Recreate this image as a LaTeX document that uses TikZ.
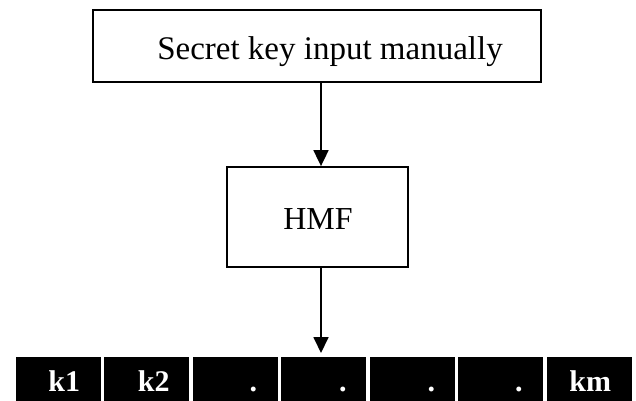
\documentclass[tikz,border=0pt]{standalone}
\usepackage{fontspec}
\setmainfont{Liberation Serif}
\usetikzlibrary{arrows.meta}
\begin{document}
\begin{tikzpicture}[x=1pt,y=-1pt,
  box/.style={draw=black,line width=1.8pt,fill=white,inner sep=0pt},
  boxtext/.style={inner sep=0pt,anchor=base},
  cell/.style={fill=black,draw=white,line width=3.5pt,minimum width=89pt,minimum height=60pt,inner sep=0pt,anchor=north west},
  celltext/.style={text=white,font=\fontsize{30}{32}\selectfont\bfseries,inner sep=0pt,anchor=base},
  arr/.style={line width=1.8pt,-{Triangle[length=16pt,width=15pt]}}]
\useasboundingbox (0,0) rectangle (636,400);
\clip (0,0) rectangle (636,400);
\fill[white] (0,0) rectangle (636,400);
\node[box,minimum width=448pt,minimum height=72pt] (top) at (317,46) {};
\node[boxtext,font=\fontsize{33}{36}\selectfont] (toptext) at (330,59) {Secret key input manually};
\node[box,minimum width=181pt,minimum height=100pt] (hmf) at (317.5,217) {};
\node[boxtext,font=\fontsize{32}{34}\selectfont] (hmftext) at (318,229) {HMF};
\coordinate (ax) at (321,0);
\coordinate (tip) at (321,353);
\draw[arr] (top.south -| ax) -- (hmf.north -| ax);
\draw[arr] (hmf.south -| ax) -- (tip);
\foreach \i [evaluate=\i as \xx using 12+(\i-1)*88.5] in {1,...,7}{
  \node[cell] (c\i) at (\xx,353) {};
}
\node[celltext] (t1) at ([xshift=6pt]c1.center |- 0,391) {k1};
\node[celltext] (t2) at ([xshift=7pt]c2.center |- 0,391) {k2};
\node[celltext] (t3) at ([xshift=18pt]c3.center |- 0,391) {.};
\node[celltext] (t4) at ([xshift=19pt]c4.center |- 0,391) {.};
\node[celltext] (t5) at ([xshift=19pt]c5.center |- 0,391) {.};
\node[celltext] (t6) at ([xshift=18pt]c6.center |- 0,391) {.};
\node[celltext] (t7) at ([xshift=1pt]c7.center |- 0,391) {km};
\end{tikzpicture}
\end{document}
